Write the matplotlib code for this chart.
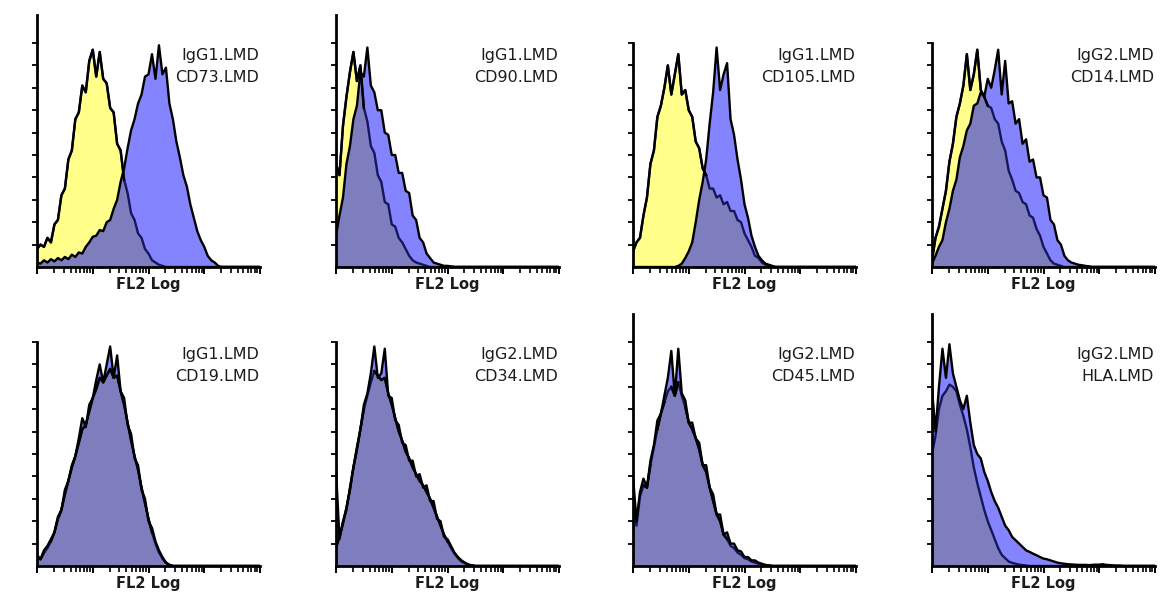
import numpy as np
import matplotlib
matplotlib.use("Agg")
import matplotlib.pyplot as plt
from matplotlib.ticker import LogLocator, NullFormatter, FixedLocator
from matplotlib.transforms import ScaledTranslation

# Channel grid: 16 channels per decade over four decades (FL2, log scale)
N_CH = 65
fl2 = 10 ** (np.arange(N_CH) / 16.0)

isotypes = ["IgG1.LMD", "IgG1.LMD", "IgG1.LMD", "IgG2.LMD",
            "IgG1.LMD", "IgG2.LMD", "IgG2.LMD", "IgG2.LMD"]
markers = ["CD73.LMD", "CD90.LMD", "CD105.LMD", "CD14.LMD",
           "CD19.LMD", "CD34.LMD", "CD45.LMD", "HLA.LMD"]

# Event counts per channel (isotype control / marker), leading channels first
cd73_iso = [8, 10, 9, 13, 11, 19, 21, 32, 35, 48, 52, 66, 69, 81, 78, 92, 97, 85, 96, 84,
            82, 71, 69, 55, 52, 39, 33, 24, 21, 15, 13, 8, 6, 3, 2, 1, 0.5]
cd73_mk = [2, 1.5, 3, 2, 3.5, 2.5, 4, 3, 4.5, 3.5, 5.5, 4.5, 6.5, 6, 9, 11, 13.5, 14, 16.5, 16,
           20, 21, 26, 30, 38, 44, 53, 61, 66, 73, 77, 85, 86, 95, 84, 99, 86, 89, 73, 66,
           56, 49, 41, 36, 28, 22, 16, 12, 9, 5, 3, 2, 0.5]

cd90_iso = [46, 41, 63, 76, 87, 96, 83, 90, 71, 65, 54, 51, 41, 38, 29, 28, 19, 18, 13, 11,
            8, 5, 3, 2, 1.5, 1, 0.5]
cd90_mk = [14, 23, 31, 46, 54, 66, 72, 87, 85, 98, 81, 78, 70, 70, 60, 59, 50, 50, 42, 42,
           34, 33, 23, 21, 13, 11, 6, 4, 2, 1.5, 1, 0.5, 0.5, 0.3]

cd105_iso = [7, 11, 13, 23, 31, 46, 52, 67, 72, 80, 90, 77, 86, 95, 77, 79, 70, 67, 56, 53,
             44, 41, 35, 35, 31, 32, 28, 29, 25, 25, 21, 20, 15, 12, 9, 5, 4, 2, 1, 0.5]
cd105_mk = [0, 0, 0, 0, 0, 0, 0, 0, 0, 0, 0, 0, 0, 0.5, 1.5, 4, 7, 11, 20, 30,
            38, 48, 64, 78, 98, 79, 86, 91, 66, 59, 48, 39, 28, 22, 14, 9, 5, 3, 1.5, 1, 0.5]

cd14_iso = [3, 13, 18, 26, 34, 47, 55, 67, 73, 81, 95, 79, 86, 97, 79, 76, 72, 71, 66, 64,
            56, 52, 43, 39, 34, 33, 29, 28, 23, 22, 17, 14, 9, 6, 3, 1.5, 1, 0.5]
cd14_mk = [1.5, 5, 9, 12, 20, 26, 34, 39, 49, 54, 61, 64, 72, 73, 78, 76, 84, 80, 88, 97,
           77, 92, 73, 74, 64, 66, 55, 57, 47, 48, 40, 40, 32, 31, 21, 19, 12, 10, 5, 3,
           2, 1.5, 1, 0.8, 0.5, 0.3]

cd19_iso = [4, 3, 6, 8, 11, 15, 21, 25, 32, 38, 44, 49, 55, 61, 63, 69, 75, 79, 84, 82,
            85, 88, 84, 85, 78, 72, 64, 56, 49, 43, 35, 28, 21, 15, 10, 6, 3.5, 1.5, 0.5]
cd19_mk = [5, 3, 7, 9, 12, 15, 22, 25, 34, 38, 45, 49, 57, 66, 62, 72, 75, 83, 90, 82,
           90, 98, 84, 94, 78, 75, 63, 59, 48, 45, 34, 30, 20, 17, 11, 7, 4, 1.5, 0.5]

cd34_iso = [8, 13, 19, 26, 34, 44, 52, 61, 70, 76, 82, 87, 85, 83, 84, 77, 72, 66, 60, 56,
            51, 48, 44, 41, 38, 36, 33, 30, 26, 22, 18, 14, 11, 8, 5.5, 3.5, 2, 1.2, 0.5, 0.2]
cd34_mk = [43, 12, 20, 25, 35, 44, 53, 61, 72, 77, 86, 98, 84, 86, 97, 76, 75, 65, 63, 55,
           54, 47, 47, 40, 41, 35, 36, 29, 29, 21, 20, 13, 12, 9, 6, 4, 2.5, 1.5, 0.7, 0.3]

cd45_iso = [30, 18, 31, 36, 35, 45, 53, 61, 68, 73, 78, 80, 76, 82, 76, 71, 64, 61, 57, 52,
            45, 42, 35, 29, 23, 20, 14, 12, 9, 8, 6, 5, 3.5, 3, 2, 1.5, 1, 0.7, 0.3, 0.1]
cd45_mk = [40, 20, 33, 39, 35, 47, 54, 65, 68, 76, 84, 96, 76, 97, 77, 74, 64, 64, 57, 55,
           45, 45, 35, 32, 23, 23, 14, 15, 10, 10, 7, 6.5, 4, 4, 2.5, 2.5, 1.5, 1, 0.5, 0.3]

hla_iso = [50, 58, 70, 76, 78, 81, 80, 78, 72, 67, 61, 53, 44, 37, 31, 25, 20, 16, 12, 8,
           5, 3.5, 2, 1.4, 1, 0.6, 0.4, 0.2]
hla_mk = [79, 60, 80, 97, 84, 99, 86, 80, 74, 70, 76, 64, 54, 50, 48, 42, 38, 33, 29, 26,
          22, 18, 16, 13, 11.5, 10, 8.5, 7, 6.3, 5.5, 4.8, 4, 3.3, 3, 2.5, 2, 1.5, 1.2, 1, 0.8,
          0.7, 0.6, 0.5, 0.5, 0.5, 0.4, 0.5, 0.6, 0.6, 0.8, 0.5, 0.4, 0.3, 0.2, 0.2]

iso_counts = [cd73_iso, cd90_iso, cd105_iso, cd14_iso, cd19_iso, cd34_iso, cd45_iso, hla_iso]
mk_counts = [cd73_mk, cd90_mk, cd105_mk, cd14_mk, cd19_mk, cd34_mk, cd45_mk, hla_mk]


def channels(vals):
    out = np.zeros(N_CH)
    out[:len(vals)] = vals
    return out


YELLOW = "#FFFF8A"
BLUE = "#8484FF"
OVERLAP = "#7E7EBE"
NAVY = "#16165E"
TXT = "#1c1c1c"

fig = plt.figure(figsize=(11.6, 6.0), dpi=100)
W, H = 1160.0, 600.0
lefts = [37, 336, 633, 932]
baselines = [267, 566]
ax_w, ax_h = 223, 252
YMAX = 112.5
short_spine = {2, 3, 4, 5}

for k in range(8):
    r, c = divmod(k, 4)
    ax = fig.add_axes([lefts[c] / W, (H - baselines[r]) / H, ax_w / W, ax_h / H])
    iso = channels(iso_counts[k])
    mk = channels(mk_counts[k])
    low = np.minimum(iso, mk)

    ax.fill_between(fl2, 0, iso, color=YELLOW, lw=0, zorder=1)
    ax.fill_between(fl2, 0, mk, color=BLUE, lw=0, zorder=2)
    ax.fill_between(fl2, 0, low, color=OVERLAP, lw=0, zorder=3)

    # isotype outline: dark blue where covered by the marker histogram
    ax.plot(fl2, iso, color=NAVY, lw=1.7, zorder=4)
    above = iso >= mk
    above = above | np.roll(above, 1) | np.roll(above, -1)
    ax.plot(fl2, np.where(above, iso, np.nan), color="black", lw=1.7, zorder=5)
    ax.plot(fl2, mk, color="black", lw=1.7, zorder=6)

    ax.set_xscale("log")
    ax.set_xlim(1, 1e4)
    ax.set_ylim(0, YMAX)
    ax.xaxis.set_major_locator(LogLocator(base=10, numticks=10))
    ax.xaxis.set_minor_locator(LogLocator(base=10, subs=np.arange(2, 10), numticks=10))
    ax.xaxis.set_major_formatter(NullFormatter())
    ax.xaxis.set_minor_formatter(NullFormatter())
    ax.yaxis.set_major_locator(FixedLocator(np.arange(10, 101, 10)))
    ax.set_yticklabels([])
    ax.tick_params(axis="x", which="major", direction="out", length=5, width=1.4, color="black")
    ax.tick_params(axis="x", which="minor", direction="out", length=4, width=1.2, color="black")
    ax.tick_params(axis="y", which="major", direction="out", length=3.5, width=1.3, color="black")

    for s in ("top", "right"):
        ax.spines[s].set_visible(False)
    for s in ("left", "bottom"):
        ax.spines[s].set_linewidth(2)
        ax.spines[s].set_color("black")
        ax.spines[s].set_zorder(7)
    if k in short_spine:
        ax.spines["left"].set_bounds(0, 100)
    ax.patch.set_alpha(0)

    ax.text(0.995, 94.5 / YMAX, isotypes[k], transform=ax.transAxes, ha="right", va="center",
            fontsize=11.5, color=TXT, family="DejaVu Sans")
    ax.text(0.995, 84.6 / YMAX, markers[k], transform=ax.transAxes, ha="right", va="center",
            fontsize=11.5, color=TXT, family="DejaVu Sans")
    off = ScaledTranslation(0, -17.5 / 100.0, fig.dpi_scale_trans)
    ax.text(0.5, 0, "FL2 Log", transform=ax.transAxes + off, ha="center", va="center",
            fontsize=10.5, fontweight="bold", color=TXT, family="DejaVu Sans")

fig.savefig("out.png", dpi=100, facecolor="white")
